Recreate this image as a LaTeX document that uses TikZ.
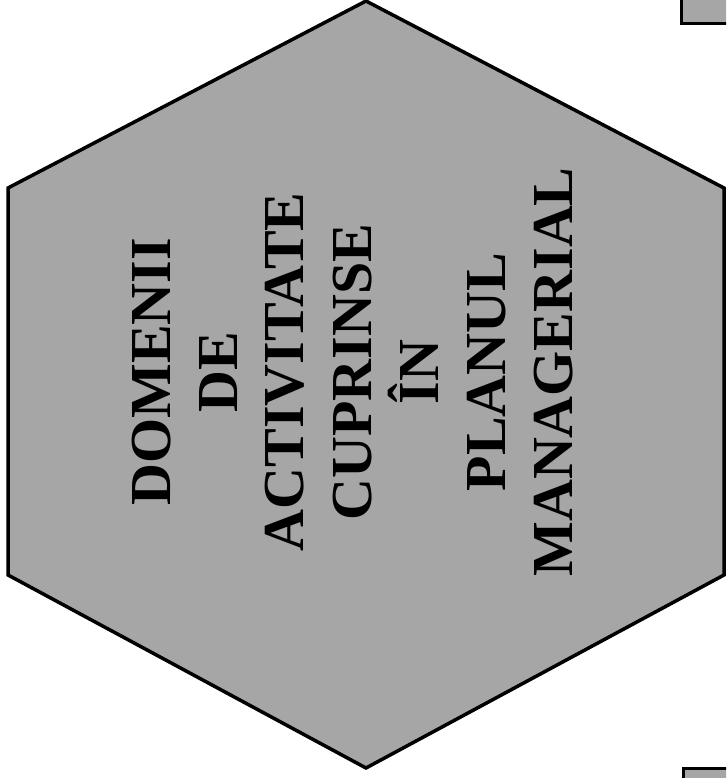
\documentclass[tikz,border=0pt]{standalone}
\usepackage{fontspec}
\setmainfont{Liberation Serif}
\definecolor{hexfill}{RGB}{166,166,166}
\tikzset{
  hexline/.style={draw=black, line width=3.5pt, fill=hexfill, line join=miter},
  boxline/.style={draw=black, line width=3pt, fill=hexfill},
  vlabel/.style={rotate=90, anchor=base, inner sep=0pt, font=\fontsize{58}{67}\selectfont\bfseries}
}
\begin{document}
\begin{tikzpicture}[x=1pt, y=-1pt]
\useasboundingbox (0,0) rectangle (726,778);
\clip (0,0) rectangle (726,778);
\fill[white] (0,0) rectangle (726,778);
% hexagon
\draw[hexline] (366,1) -- (724,188) -- (724,575) -- (366,768) -- (8,575) -- (8,188) -- cycle;
% partial boxes at the right border
\draw[boxline] (681,-10) rectangle (745,24);
\draw[boxline] (683,768) rectangle (745,800);
% text
\node[vlabel] (l1) at (170,372) {DOMENII};
\node[vlabel] (l2) at (237,372) {DE};
\node[vlabel] (l3) at (303,372) {ACTIVITATE};
\node[vlabel] (l4) at (371,372) {CUPRINSE};
\node[vlabel] (l5) at (438,372) {ÎN};
\node[vlabel] (l6) at (505,372) {PLANUL};
\node[vlabel] (l7) at (572,372) {MANAGERIAL};
\end{tikzpicture}
\end{document}
